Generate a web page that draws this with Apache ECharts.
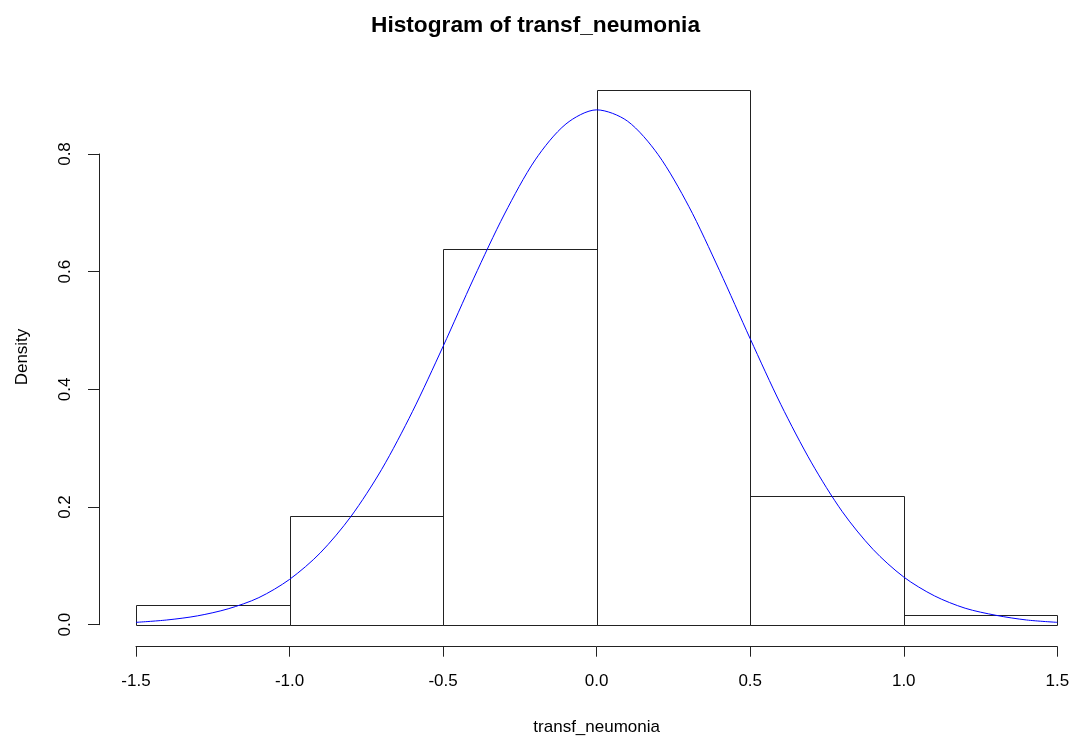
<!DOCTYPE html>
<html>
<head>
<meta charset="utf-8">
<script src="https://cdn.jsdelivr.net/npm/echarts@6/dist/echarts.min.js"></script>
<style>
  html, body { margin: 0; padding: 0; background: #ffffff; }
  #chart { width: 1071px; height: 738px; }
</style>
</head>
<body>
<div id="chart"></div>
<script>
// Histogram bins (break points) and their densities
const binEdges = [-1.5, -1.0, -0.5, 0.0, 0.5, 1.0, 1.5];
const binDensity = [0.034, 0.185, 0.639, 0.909, 0.219, 0.017];

// Fitted normal density curve, sampled along x
const curveX = [-1.5, -1.4, -1.3, -1.2, -1.1, -1.0, -0.9, -0.8, -0.7, -0.6, -0.5,
                -0.4, -0.3, -0.2, -0.1, 0.0, 0.1, 0.2, 0.3, 0.4, 0.5,
                0.6, 0.7, 0.8, 0.9, 1.0, 1.1, 1.2, 1.3, 1.4, 1.5];
const curveY = [0.004, 0.008, 0.015, 0.027, 0.046, 0.077, 0.122, 0.184, 0.264, 0.362, 0.473,
                0.589, 0.698, 0.790, 0.851, 0.875, 0.856, 0.799, 0.711, 0.602, 0.486,
                0.374, 0.275, 0.192, 0.128, 0.081, 0.049, 0.028, 0.016, 0.008, 0.004];

// Axis tick values
const xTicks = [-1.5, -1.0, -0.5, 0.0, 0.5, 1.0, 1.5];
const yTicks = [0.0, 0.2, 0.4, 0.6, 0.8];

const titleText = 'Histogram of transf_neumonia';
const xTitle = 'transf_neumonia';
const yTitle = 'Density';

const FONT = '"Liberation Sans", Arial, sans-serif';
const INK = '#222222';

const binData = binDensity.map((d, i) => [binEdges[i], binEdges[i + 1], d]);
const curveData = curveX.map((x, i) => [x, curveY[i]]);

const chart = echarts.init(document.getElementById('chart'), null, { renderer: 'canvas' });

chart.setOption({
  backgroundColor: '#ffffff',
  animation: false,
  title: {
    text: titleText,
    left: 'center',
    top: 9,
    textStyle: { fontFamily: FONT, fontSize: 22.7, fontWeight: 'bold', color: '#000' }
  },
  graphic: [{
    type: 'text',
    x: 22,
    y: 357,
    rotation: Math.PI / 2,
    style: {
      text: yTitle,
      fontFamily: FONT,
      fontSize: 17,
      fill: '#000',
      align: 'center',
      verticalAlign: 'middle'
    }
  }],
  grid: [
    // plotting region: x spans the bins, y from 0 to 1.0
    { left: 136, width: 921.3, top: 36.3, height: 588.4, outerBoundsMode: 'none', containLabel: false },
    // frame for the density axis, spanning its tick range only
    { left: 99, width: 921.3, top: 154, height: 470.7, outerBoundsMode: 'none', containLabel: false }
  ],
  xAxis: [{
    gridIndex: 0,
    type: 'value',
    min: xTicks[0],
    max: xTicks[xTicks.length - 1],
    interval: 0.5,
    position: 'bottom',
    offset: 22,
    splitLine: { show: false },
    axisLine: { show: true, onZero: false, lineStyle: { color: INK, width: 1 } },
    axisTick: { show: true, length: 10, lineStyle: { color: INK, width: 1 } },
    axisLabel: {
      show: true,
      margin: 26,
      fontFamily: FONT,
      fontSize: 17,
      color: '#000',
      formatter: v => v.toFixed(1)
    },
    name: xTitle,
    nameLocation: 'middle',
    nameGap: 72,
    nameTextStyle: { fontFamily: FONT, fontSize: 17, color: '#000' }
  }, {
    gridIndex: 1,
    type: 'value',
    show: false,
    min: 0,
    max: 1
  }],
  yAxis: [{
    gridIndex: 0,
    type: 'value',
    min: 0,
    max: 1.0,
    show: false
  }, {
    gridIndex: 1,
    type: 'value',
    min: yTicks[0],
    max: yTicks[yTicks.length - 1],
    interval: 0.2,
    splitLine: { show: false },
    axisLine: { show: true, lineStyle: { color: INK, width: 1 } },
    axisTick: { show: true, length: 11, lineStyle: { color: INK, width: 1 } },
    axisLabel: {
      show: true,
      rotate: 90,
      margin: 25,
      fontFamily: FONT,
      fontSize: 17,
      color: '#000',
      formatter: v => v.toFixed(1)
    }
  }],
  series: [{
    type: 'custom',
    xAxisIndex: 0,
    yAxisIndex: 0,
    data: binData,
    renderItem: function (params, api) {
      const p0 = api.coord([api.value(0), api.value(2)]);
      const p1 = api.coord([api.value(1), 0]);
      return {
        type: 'rect',
        shape: {
          x: Math.round(p0[0]) + 0.5,
          y: Math.round(p0[1]) + 0.5,
          width: Math.round(p1[0]) - Math.round(p0[0]),
          height: Math.round(p1[1]) - Math.round(p0[1])
        },
        style: { fill: 'none', stroke: INK, lineWidth: 1 }
      };
    },
    z: 2
  }, {
    type: 'line',
    xAxisIndex: 0,
    yAxisIndex: 0,
    data: curveData,
    smooth: 0.3,
    showSymbol: false,
    lineStyle: { color: '#0000ff', width: 1 },
    z: 3
  }]
});
</script>
</body>
</html>
